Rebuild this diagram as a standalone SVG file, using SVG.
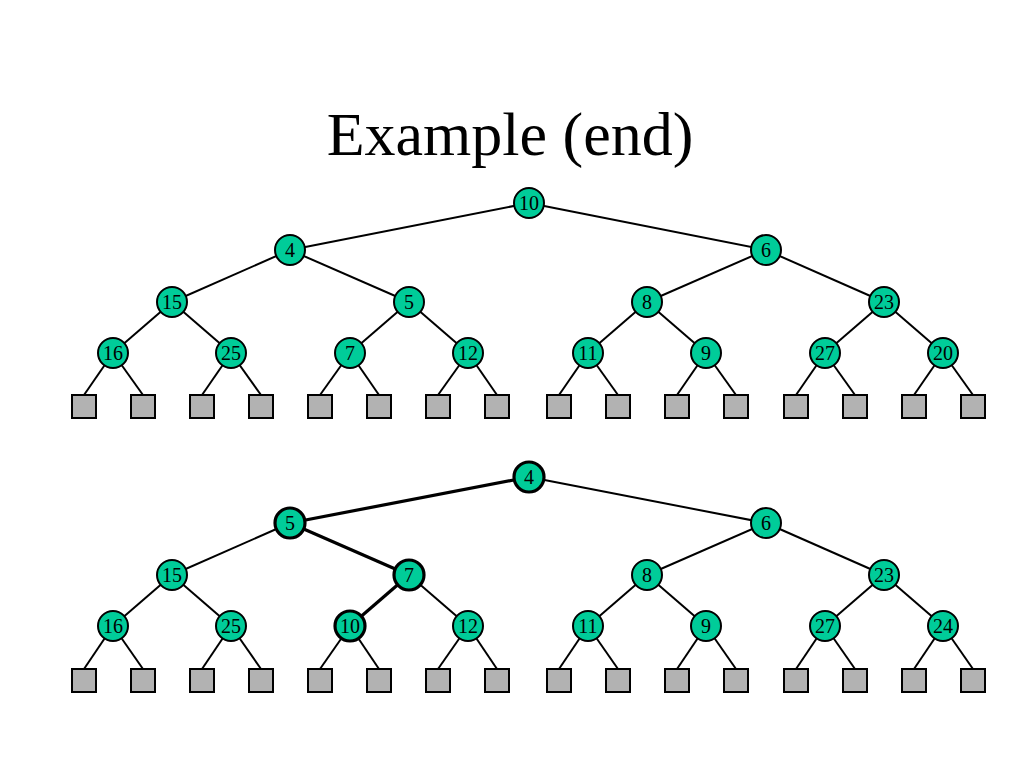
<svg xmlns="http://www.w3.org/2000/svg" width="1024" height="768" viewBox="0 0 1024 768">
<style>
.e{stroke:#000;stroke-width:2;fill:none}
.eb{stroke:#000;stroke-width:3.2;fill:none}
.n circle{fill:#00cc99;stroke:#000;stroke-width:2}
.n.b circle{stroke-width:3.2}
.n text{font-family:"Liberation Serif",serif;font-size:20px;text-anchor:middle;fill:#000}
.lf{fill:#b2b2b2;stroke:#000;stroke-width:2}
.t{font-family:"Liberation Serif",serif;font-size:62px;text-anchor:middle;fill:#000}
</style>
<rect width="1024" height="768" fill="#fff"/>
<text class="t" x="510" y="155">Example (end)</text>
<g id="connectors">
<!-- top tree -->
<g transform="translate(0,0)">
<line class="e" x1="529" y1="203" x2="290" y2="250"/>
<line class="e" x1="529" y1="203" x2="766" y2="250"/>
<line class="e" x1="290" y1="250" x2="172" y2="302"/>
<line class="e" x1="290" y1="250" x2="409" y2="302"/>
<line class="e" x1="766" y1="250" x2="647" y2="302"/>
<line class="e" x1="766" y1="250" x2="884" y2="302"/>
<line class="e" x1="172" y1="302" x2="113" y2="353"/>
<line class="e" x1="172" y1="302" x2="231" y2="353"/>
<line class="e" x1="409" y1="302" x2="350" y2="353"/>
<line class="e" x1="409" y1="302" x2="468" y2="353"/>
<line class="e" x1="647" y1="302" x2="588" y2="353"/>
<line class="e" x1="647" y1="302" x2="706" y2="353"/>
<line class="e" x1="884" y1="302" x2="825" y2="353"/>
<line class="e" x1="884" y1="302" x2="943" y2="353"/>
<line class="e" x1="113" y1="353" x2="84" y2="395"/>
<line class="e" x1="113" y1="353" x2="143" y2="395"/>
<line class="e" x1="231" y1="353" x2="202" y2="395"/>
<line class="e" x1="231" y1="353" x2="261" y2="395"/>
<line class="e" x1="350" y1="353" x2="320" y2="395"/>
<line class="e" x1="350" y1="353" x2="379" y2="395"/>
<line class="e" x1="468" y1="353" x2="438" y2="395"/>
<line class="e" x1="468" y1="353" x2="497" y2="395"/>
<line class="e" x1="588" y1="353" x2="559" y2="395"/>
<line class="e" x1="588" y1="353" x2="618" y2="395"/>
<line class="e" x1="706" y1="353" x2="677" y2="395"/>
<line class="e" x1="706" y1="353" x2="736" y2="395"/>
<line class="e" x1="825" y1="353" x2="796" y2="395"/>
<line class="e" x1="825" y1="353" x2="855" y2="395"/>
<line class="e" x1="943" y1="353" x2="914" y2="395"/>
<line class="e" x1="943" y1="353" x2="973" y2="395"/>
</g>
<!-- bottom tree -->
<g transform="translate(0,274)">
<line class="eb" x1="529" y1="203" x2="290" y2="249"/>
<line class="e" x1="529" y1="203" x2="766" y2="249"/>
<line class="e" x1="290" y1="249" x2="172" y2="301"/>
<line class="eb" x1="290" y1="249" x2="409" y2="301"/>
<line class="e" x1="766" y1="249" x2="647" y2="301"/>
<line class="e" x1="766" y1="249" x2="884" y2="301"/>
<line class="e" x1="172" y1="301" x2="113" y2="352"/>
<line class="e" x1="172" y1="301" x2="231" y2="352"/>
<line class="eb" x1="409" y1="301" x2="350" y2="352"/>
<line class="e" x1="409" y1="301" x2="468" y2="352"/>
<line class="e" x1="647" y1="301" x2="588" y2="352"/>
<line class="e" x1="647" y1="301" x2="706" y2="352"/>
<line class="e" x1="884" y1="301" x2="825" y2="352"/>
<line class="e" x1="884" y1="301" x2="943" y2="352"/>
<line class="e" x1="113" y1="352" x2="84" y2="395"/>
<line class="e" x1="113" y1="352" x2="143" y2="395"/>
<line class="e" x1="231" y1="352" x2="202" y2="395"/>
<line class="e" x1="231" y1="352" x2="261" y2="395"/>
<line class="e" x1="350" y1="352" x2="320" y2="395"/>
<line class="e" x1="350" y1="352" x2="379" y2="395"/>
<line class="e" x1="468" y1="352" x2="438" y2="395"/>
<line class="e" x1="468" y1="352" x2="497" y2="395"/>
<line class="e" x1="588" y1="352" x2="559" y2="395"/>
<line class="e" x1="588" y1="352" x2="618" y2="395"/>
<line class="e" x1="706" y1="352" x2="677" y2="395"/>
<line class="e" x1="706" y1="352" x2="736" y2="395"/>
<line class="e" x1="825" y1="352" x2="796" y2="395"/>
<line class="e" x1="825" y1="352" x2="855" y2="395"/>
<line class="e" x1="943" y1="352" x2="914" y2="395"/>
<line class="e" x1="943" y1="352" x2="973" y2="395"/>
</g>
</g>
<g id="top-tree">
<g id="t-n10" class="n"><circle cx="529" cy="203" r="15"/><text x="529" y="210">10</text></g>
<g id="t-n4" class="n"><circle cx="290" cy="250" r="15"/><text x="290" y="257">4</text></g>
<g id="t-n6" class="n"><circle cx="766" cy="250" r="15"/><text x="766" y="257">6</text></g>
<g id="t-n15" class="n"><circle cx="172" cy="302" r="15"/><text x="172" y="309">15</text></g>
<g id="t-n5" class="n"><circle cx="409" cy="302" r="15"/><text x="409" y="309">5</text></g>
<g id="t-n8" class="n"><circle cx="647" cy="302" r="15"/><text x="647" y="309">8</text></g>
<g id="t-n23" class="n"><circle cx="884" cy="302" r="15"/><text x="884" y="309">23</text></g>
<g id="t-n16" class="n"><circle cx="113" cy="353" r="15"/><text x="113" y="360">16</text></g>
<g id="t-n25" class="n"><circle cx="231" cy="353" r="15"/><text x="231" y="360">25</text></g>
<g id="t-n7" class="n"><circle cx="350" cy="353" r="15"/><text x="350" y="360">7</text></g>
<g id="t-n12" class="n"><circle cx="468" cy="353" r="15"/><text x="468" y="360">12</text></g>
<g id="t-n11" class="n"><circle cx="588" cy="353" r="15"/><text x="588" y="360">11</text></g>
<g id="t-n9" class="n"><circle cx="706" cy="353" r="15"/><text x="706" y="360">9</text></g>
<g id="t-n27" class="n"><circle cx="825" cy="353" r="15"/><text x="825" y="360">27</text></g>
<g id="t-n20" class="n"><circle cx="943" cy="353" r="15"/><text x="943" y="360">20</text></g>
<g id="t-leaves">
<rect class="lf" x="72" y="395" width="24" height="23"/>
<rect class="lf" x="131" y="395" width="24" height="23"/>
<rect class="lf" x="190" y="395" width="24" height="23"/>
<rect class="lf" x="249" y="395" width="24" height="23"/>
<rect class="lf" x="308" y="395" width="24" height="23"/>
<rect class="lf" x="367" y="395" width="24" height="23"/>
<rect class="lf" x="426" y="395" width="24" height="23"/>
<rect class="lf" x="485" y="395" width="24" height="23"/>
<rect class="lf" x="547" y="395" width="24" height="23"/>
<rect class="lf" x="606" y="395" width="24" height="23"/>
<rect class="lf" x="665" y="395" width="24" height="23"/>
<rect class="lf" x="724" y="395" width="24" height="23"/>
<rect class="lf" x="784" y="395" width="24" height="23"/>
<rect class="lf" x="843" y="395" width="24" height="23"/>
<rect class="lf" x="902" y="395" width="24" height="23"/>
<rect class="lf" x="961" y="395" width="24" height="23"/>
</g>
</g>
<g id="bottom-tree" transform="translate(0,274)">
<g id="b-n4" class="n b"><circle cx="529" cy="203" r="15"/><text x="529" y="210">4</text></g>
<g id="b-n5" class="n b"><circle cx="290" cy="249" r="15"/><text x="290" y="256">5</text></g>
<g id="b-n6" class="n"><circle cx="766" cy="249" r="15"/><text x="766" y="256">6</text></g>
<g id="b-n15" class="n"><circle cx="172" cy="301" r="15"/><text x="172" y="308">15</text></g>
<g id="b-n7" class="n b"><circle cx="409" cy="301" r="15"/><text x="409" y="308">7</text></g>
<g id="b-n8" class="n"><circle cx="647" cy="301" r="15"/><text x="647" y="308">8</text></g>
<g id="b-n23" class="n"><circle cx="884" cy="301" r="15"/><text x="884" y="308">23</text></g>
<g id="b-n16" class="n"><circle cx="113" cy="352" r="15"/><text x="113" y="359">16</text></g>
<g id="b-n25" class="n"><circle cx="231" cy="352" r="15"/><text x="231" y="359">25</text></g>
<g id="b-n10" class="n b"><circle cx="350" cy="352" r="15"/><text x="350" y="359">10</text></g>
<g id="b-n12" class="n"><circle cx="468" cy="352" r="15"/><text x="468" y="359">12</text></g>
<g id="b-n11" class="n"><circle cx="588" cy="352" r="15"/><text x="588" y="359">11</text></g>
<g id="b-n9" class="n"><circle cx="706" cy="352" r="15"/><text x="706" y="359">9</text></g>
<g id="b-n27" class="n"><circle cx="825" cy="352" r="15"/><text x="825" y="359">27</text></g>
<g id="b-n24" class="n"><circle cx="943" cy="352" r="15"/><text x="943" y="359">24</text></g>
<g id="b-leaves">
<rect class="lf" x="72" y="395" width="24" height="23"/>
<rect class="lf" x="131" y="395" width="24" height="23"/>
<rect class="lf" x="190" y="395" width="24" height="23"/>
<rect class="lf" x="249" y="395" width="24" height="23"/>
<rect class="lf" x="308" y="395" width="24" height="23"/>
<rect class="lf" x="367" y="395" width="24" height="23"/>
<rect class="lf" x="426" y="395" width="24" height="23"/>
<rect class="lf" x="485" y="395" width="24" height="23"/>
<rect class="lf" x="547" y="395" width="24" height="23"/>
<rect class="lf" x="606" y="395" width="24" height="23"/>
<rect class="lf" x="665" y="395" width="24" height="23"/>
<rect class="lf" x="724" y="395" width="24" height="23"/>
<rect class="lf" x="784" y="395" width="24" height="23"/>
<rect class="lf" x="843" y="395" width="24" height="23"/>
<rect class="lf" x="902" y="395" width="24" height="23"/>
<rect class="lf" x="961" y="395" width="24" height="23"/>
</g>
</g>
</svg>
